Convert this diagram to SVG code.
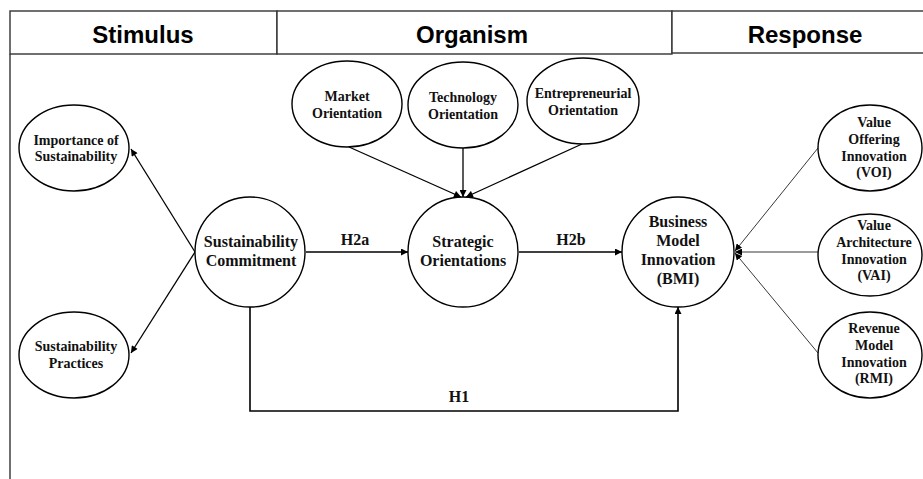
<svg xmlns="http://www.w3.org/2000/svg" width="923" height="479" viewBox="0 0 923 479">
<defs>
<marker id="ah" viewBox="0 0 10 10" refX="10" refY="5" markerWidth="8" markerHeight="7" markerUnits="userSpaceOnUse" orient="auto">
<path d="M0,0 L10,5 L0,10 z" fill="#000"/>
</marker>
<marker id="ahs" viewBox="0 0 10 10" refX="10" refY="5" markerWidth="7" markerHeight="7" markerUnits="userSpaceOnUse" orient="auto">
<path d="M0,0 L10,5 L0,10 z" fill="#000"/>
</marker>
</defs>
<style>
.hdr{fill:#fff;stroke:#333;stroke-width:1.4}
.ht{font-family:"Liberation Sans",Arial,sans-serif;font-weight:bold;font-size:24px;text-anchor:middle;fill:#000}
.nd{fill:#fff;stroke:#000;stroke-width:1.4}
.t16{font-family:"Liberation Serif","Times New Roman",serif;font-weight:bold;font-size:16px;text-anchor:middle;fill:#111}
.t14{font-family:"Liberation Serif","Times New Roman",serif;font-weight:bold;font-size:14px;text-anchor:middle;fill:#111}
.c{fill:none;stroke:#000;stroke-width:1.6}
.ct{fill:none;stroke:#000;stroke-width:1.3}
.cs{fill:none;stroke:#222;stroke-width:0.9}
</style>
<rect width="923" height="479" fill="#fff"/>
<g id="header">
<rect class="hdr" x="10" y="11" width="267" height="43"/>
<rect class="hdr" x="277" y="11" width="395" height="43"/>
<rect class="hdr" x="672" y="11" width="270" height="42"/>
<line x1="10" y1="54" x2="10" y2="479" stroke="#333" stroke-width="1.4"/>
<text class="ht" x="143" y="43">Stimulus</text>
<text class="ht" x="472" y="43">Organism</text>
<text class="ht" x="805" y="43">Response</text>
</g>
<g id="connectors">
<line class="ct" x1="195" y1="252" x2="131" y2="149" marker-end="url(#ah)"/>
<line class="ct" x1="195" y1="252" x2="131" y2="353" marker-end="url(#ah)"/>
<line class="c" x1="306" y1="252" x2="408" y2="252" marker-end="url(#ah)"/>
<line class="c" x1="519" y1="252" x2="622" y2="252" marker-end="url(#ah)"/>
<line class="ct" x1="349" y1="147" x2="461" y2="197" marker-end="url(#ah)"/>
<line class="ct" x1="463" y1="148" x2="463" y2="197" marker-end="url(#ah)"/>
<line class="ct" x1="582" y1="144" x2="466" y2="197" marker-end="url(#ah)"/>
<path class="c" d="M250,307 V411 H678 V307" marker-end="url(#ah)"/>
<line class="cs" x1="818" y1="148" x2="735" y2="251" marker-end="url(#ahs)"/>
<line class="cs" x1="818" y1="252" x2="735" y2="252" marker-end="url(#ahs)"/>
<line class="cs" x1="818" y1="353" x2="735" y2="253" marker-end="url(#ahs)"/>
<text class="t16" x="355" y="245">H2a</text>
<text class="t16" x="571" y="245">H2b</text>
<text class="t16" x="459" y="402">H1</text>
</g>
<g id="importance">
<ellipse class="nd" cx="74" cy="148" rx="55" ry="43"/>
<text class="t14" x="76" y="145">Importance of</text>
<text class="t14" x="76" y="161">Sustainability</text>
</g>
<g id="practices">
<ellipse class="nd" cx="74" cy="355" rx="55" ry="43"/>
<text class="t14" x="76" y="351">Sustainability</text>
<text class="t14" x="76" y="368">Practices</text>
</g>
<g id="commitment">
<ellipse class="nd" cx="250" cy="252" rx="55" ry="55"/>
<text class="t16" x="251" y="247">Sustainability</text>
<text class="t16" x="251" y="266">Commitment</text>
</g>
<g id="market">
<ellipse class="nd" cx="347" cy="104" rx="55" ry="43"/>
<text class="t14" x="347" y="101">Market</text>
<text class="t14" x="347" y="118">Orientation</text>
</g>
<g id="technology">
<ellipse class="nd" cx="463" cy="105" rx="55" ry="43"/>
<text class="t14" x="463" y="102">Technology</text>
<text class="t14" x="463" y="119">Orientation</text>
</g>
<g id="entrepreneurial">
<ellipse class="nd" cx="583" cy="101" rx="56" ry="43"/>
<text class="t14" x="583" y="98">Entrepreneurial</text>
<text class="t14" x="583" y="115">Orientation</text>
</g>
<g id="strategic">
<ellipse class="nd" cx="463" cy="252" rx="55" ry="55"/>
<text class="t16" x="463" y="247">Strategic</text>
<text class="t16" x="463" y="266">Orientations</text>
</g>
<g id="bmi">
<ellipse class="nd" cx="678" cy="252" rx="56" ry="55"/>
<text class="t16" x="678" y="227">Business</text>
<text class="t16" x="678" y="246">Model</text>
<text class="t16" x="678" y="265">Innovation</text>
<text class="t16" x="678" y="284">(BMI)</text>
</g>
<g id="voi">
<ellipse class="nd" cx="870" cy="148" rx="52" ry="43"/>
<text class="t14" x="874" y="127">Value</text>
<text class="t14" x="874" y="144">Offering</text>
<text class="t14" x="874" y="161">Innovation</text>
<text class="t14" x="874" y="177">(VOI)</text>
</g>
<g id="vai">
<ellipse class="nd" cx="870" cy="255" rx="52" ry="41"/>
<text class="t14" x="874" y="230">Value</text>
<text class="t14" x="874" y="247">Architecture</text>
<text class="t14" x="874" y="264">Innovation</text>
<text class="t14" x="874" y="280">(VAI)</text>
</g>
<g id="rmi">
<ellipse class="nd" cx="870" cy="355" rx="52" ry="43"/>
<text class="t14" x="874" y="333">Revenue</text>
<text class="t14" x="874" y="350">Model</text>
<text class="t14" x="874" y="367">Innovation</text>
<text class="t14" x="874" y="383">(RMI)</text>
</g>
</svg>
